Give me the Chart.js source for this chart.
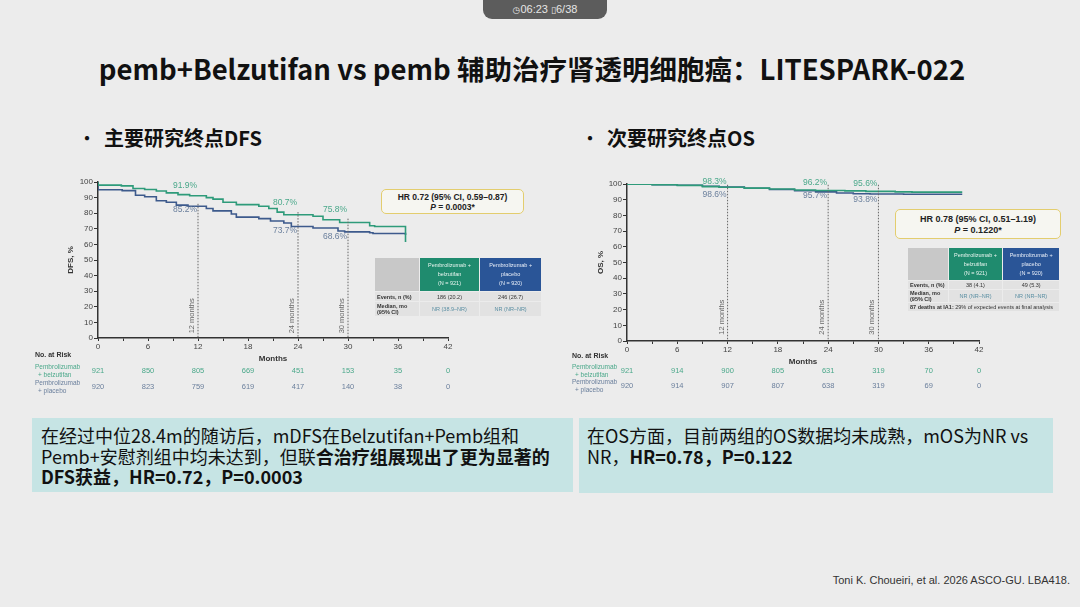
<!DOCTYPE html>
<html>
<head>
<meta charset="utf-8">
<script src="https://cdn.jsdelivr.net/npm/chart.js@4.4.1/dist/chart.umd.min.js"></script>
<style>
body { margin: 0; background: #ececec; }
#slide { position: relative; width: 1080px; height: 607px; overflow: hidden; background: #ececec; font-family: "Noto Sans CJK SC", "Noto Sans", sans-serif; color: #111; }
.abs { position: absolute; }
#pill { left: 483px; top: 0; width: 124px; height: 19px; background: #5c5c5c; border-radius: 0 0 9px 9px; color: #e6e6e6; font: 11px "Liberation Sans Narrow", "Liberation Sans", sans-serif; text-align: center; line-height: 19px; }
#title { left: -8px; top: 48px; width: 1080px; text-align: center; font-size: 27.5px; font-weight: bold; line-height: 40px; }
.bullet { font-size: 20px; font-weight: bold; line-height: 26px; }
.bullet span { display: inline-block; width: 27px; font-weight: normal; }
.hr { border: 1.5px solid #e3cd6e; border-radius: 5px; background: #f6f6f1; text-align: center; font: bold 8.5px "Liberation Sans", sans-serif; color: #222; box-sizing: border-box; }
table.t { border-collapse: separate; border-spacing: 1px; font: 5.5px "Liberation Sans", sans-serif; color: #333; }
table.t td { padding: 0 2px; text-align: center; background: #e2e2e2; }
table.t td.h0 { background: #c8c8c8; }
table.t td.hg { background: #1f8b6e; color: #e8f5ef; line-height: 9px; }
table.t td.hb { background: #2a5597; color: #e8eef8; line-height: 9px; }
table.t td.l { text-align: left; font-weight: bold; }
table.t td.nr { color: #5b8fa3; }
.box { background: #c6e4e4; font-size: 18px; line-height: 20.5px; box-sizing: border-box; padding: 7px 8px 0 9px; white-space: nowrap; }
#cite { right: 10px; top: 574px; font: 11px "Liberation Sans Narrow", "Liberation Sans", sans-serif; color: #333; }
</style>
</head>
<body>
<div id="slide">
  <div id="pill" class="abs"><span style="font-family:'DejaVu Sans';font-size:9px">&#9719;</span>06:23 <span style="font-family:'DejaVu Sans';font-size:9px">&#9647;</span>6/38</div>
  <div id="title" class="abs">pemb+Belzutifan vs pemb 辅助治疗肾透明细胞癌：LITESPARK-022</div>
  <div class="abs bullet" style="left:77px;top:125px"><span>•</span>主要研究终点DFS</div>
  <div class="abs bullet" style="left:580px;top:125px"><span>•</span>次要研究终点OS</div>

  <canvas id="dfs" class="abs" style="left:30px;top:170px;width:530px;height:230px"></canvas>
  <canvas id="os" class="abs" style="left:560px;top:170px;width:515px;height:230px"></canvas>

  <div class="abs hr" style="left:381px;top:189px;width:143px;height:25px;padding-top:2px;line-height:10px">HR 0.72 (95% CI, 0.59–0.87)<br><i>P</i> = 0.0003*</div>
  <table class="abs t" style="left:374px;top:257px;width:168px">
    <tr style="height:33px"><td class="h0" style="width:40px"></td><td class="hg" style="width:56px">Pembrolizumab +<br>belzutifan<br>(N = 921)</td><td class="hb" style="width:57px">Pembrolizumab +<br>placebo<br>(N = 920)</td></tr>
    <tr style="height:9px"><td class="l">Events, n (%)</td><td>186 (20.2)</td><td>246 (26.7)</td></tr>
    <tr style="height:14px"><td class="l">Median, mo<br>(95% CI)</td><td class="nr">NR (38.9–NR)</td><td class="nr">NR (NR–NR)</td></tr>
  </table>

  <div class="abs hr" style="left:895px;top:209px;width:166px;height:30px;padding-top:4px;line-height:11px;font-size:9px">HR 0.78 (95% CI, 0.51–1.19)<br><i>P</i> = 0.1220*</div>
  <table class="abs t" style="left:907px;top:247px;width:153px">
    <tr style="height:32px"><td class="h0" style="width:36px"></td><td class="hg" style="width:50px">Pembrolizumab +<br>belzutifan<br>(N = 921)</td><td class="hb" style="width:52px">Pembrolizumab +<br>placebo<br>(N = 920)</td></tr>
    <tr style="height:8px"><td class="l">Events, n (%)</td><td>38 (4.1)</td><td>49 (5.3)</td></tr>
    <tr style="height:12px"><td class="l">Median, mo<br>(95% CI)</td><td class="nr">NR (NR–NR)</td><td class="nr">NR (NR–NR)</td></tr>
    <tr style="height:8px"><td colspan="3" style="text-align:left"><b>87 deaths at IA1:</b> 29% of expected events at final analysis</td></tr>
  </table>

  <div class="abs box" style="left:32px;top:418px;width:541px;height:74px">在经过中位28.4m的随访后，mDFS在Belzutifan+Pemb组和<br>Pemb+安慰剂组中均未达到，但联<b>合治疗组展现出了更为显著的<br>DFS获益，HR=0.72，P=0.0003</b></div>
  <div class="abs box" style="left:579px;top:418px;width:474px;height:75px;padding-left:8px">在OS方面，目前两组的OS数据均未成熟，mOS为NR vs<br>NR，<b>HR=0.78，P=0.122</b></div>

  <div id="cite" class="abs">Toni K. Choueiri, et al. 2026 ASCO-GU. LBA418.</div>
</div>

<script>
// ---- data ----
var riskMonths = [0, 6, 12, 18, 24, 30, 36, 42];
var milestoneMonths = [12, 24, 30];

// DFS Kaplan-Meier steps (month, %)
var dfsBelzMonths = [0, 2.8, 4.2, 5.6, 7.0, 8.2, 9.6, 11.0, 13.0, 13.8, 15.0, 16.6, 19.3, 20.5, 21.5, 22.3, 25.8, 27.0, 29.0, 32.6, 33.2, 36.9, 37.0];
var dfsBelzPct   = [100, 98, 97.5, 95.8, 95.2, 94.2, 93, 91.9, 91.2, 90, 89, 87, 85.5, 84.5, 83, 80.7, 79, 78, 75.8, 74, 72, 71.5, 62];
var dfsPlacMonths = [0, 2.9, 4.5, 5.6, 7.0, 8.2, 9.4, 10.8, 13.0, 13.8, 16.0, 16.6, 19.3, 20.7, 22.3, 23.2, 25.8, 28.8, 29.6, 32.6, 33.0, 36.9, 37.0];
var dfsPlacPct   = [100, 95, 94.5, 91.5, 90.5, 88, 87, 85.2, 84.5, 83, 81.5, 79.5, 77.5, 76.5, 75, 73.7, 71.5, 70.5, 68.6, 68, 67.5, 67, 66.5];

// OS Kaplan-Meier steps (month, %)
var osBelzMonths = [0, 3, 6, 9, 11, 14, 17, 20, 22.5, 26, 28.5, 32, 34, 37, 40];
var osBelzPct    = [100, 99.8, 99.5, 99.1, 98.3, 97.9, 97.4, 96.8, 96.2, 95.9, 95.6, 95.3, 95, 94.8, 94.8];
var osPlacMonths = [0, 3, 6, 9, 11, 14, 17, 20, 22.5, 25, 27, 29, 33, 36, 40];
var osPlacPct    = [100, 99.9, 99.6, 99.2, 98.6, 98, 97.3, 96.5, 95.7, 95, 94.3, 93.8, 93.6, 93.5, 93.5];

// milestone labels
var dfsBelzLabels = ["91.9%", "80.7%", "75.8%"];
var dfsPlacLabels = ["85.2%", "73.7%", "68.6%"];
var osBelzLabels  = ["98.3%", "96.2%", "95.6%"];
var osPlacLabels  = ["98.6%", "95.7%", "93.8%"];

// numbers at risk
var dfsRiskBelz = [921, 850, 805, 669, 451, 153, 35, 0];
var dfsRiskPlac = [920, 823, 759, 619, 417, 140, 38, 0];
var osRiskBelz  = [921, 914, 900, 805, 631, 319, 70, 0];
var osRiskPlac  = [920, 914, 907, 807, 638, 319, 69, 0];

var GREEN = "#2e9b7a";
var BLUE = "#3d5a8c";
var GREEN_TXT = "#4aa88a";
var BLUE_TXT = "#6a7f9c";

function pts(t, s) {
  return t.map(function(m, i) { return { x: m, y: s[i] }; });
}

var kmAnnot = {
  id: "kmAnnot",
  afterDatasetsDraw: function(chart, args, o) {
    var ctx = chart.ctx, x = chart.scales.x, y = chart.scales.y;
    ctx.save();
    milestoneMonths.forEach(function(m, i) {
      var px = x.getPixelForValue(m);
      ctx.strokeStyle = "#666";
      ctx.lineWidth = 1;
      ctx.setLineDash([1.5, 1.5]);
      ctx.beginPath();
      ctx.moveTo(px, y.getPixelForValue(o.lineTop[i]));
      ctx.lineTo(px, y.getPixelForValue(0));
      ctx.stroke();
      ctx.setLineDash([]);

      ctx.save();
      ctx.translate(px - 6, y.getPixelForValue(o.rotFrom));
      ctx.rotate(-Math.PI / 2);
      ctx.font = "7.5px 'Liberation Sans'";
      ctx.fillStyle = "#666";
      ctx.textAlign = "left";
      ctx.textBaseline = "middle";
      ctx.fillText(m + " months", 0, 0);
      ctx.restore();

      ctx.font = "8.5px 'Liberation Sans'";
      ctx.textAlign = "right";
      ctx.textBaseline = "middle";
      ctx.fillStyle = GREEN_TXT;
      ctx.fillText(o.topTxt[i], px - 1, y.getPixelForValue(o.topY[i]));
      ctx.fillStyle = BLUE_TXT;
      ctx.fillText(o.botTxt[i], px - 1, y.getPixelForValue(o.botY[i]));
    });

    // numbers at risk
    ctx.textBaseline = "middle";
    ctx.textAlign = "left";
    ctx.font = "bold 7px 'Liberation Sans'";
    ctx.fillStyle = "#333";
    ctx.fillText("No. at Risk", o.labX, o.riskY0);
    ctx.font = "6.5px 'Liberation Sans'";
    ctx.fillStyle = GREEN_TXT;
    ctx.fillText("Pembrolizumab", o.labX, o.riskY1 - 4);
    ctx.fillText("+ belzutifan", o.labX + 3, o.riskY1 + 4);
    ctx.fillStyle = BLUE_TXT;
    ctx.fillText("Pembrolizumab", o.labX, o.riskY2 - 4);
    ctx.fillText("+ placebo", o.labX + 3, o.riskY2 + 4);
    ctx.font = "7.5px 'Liberation Sans'";
    ctx.textAlign = "center";
    riskMonths.forEach(function(m, i) {
      var px = x.getPixelForValue(m);
      ctx.fillStyle = GREEN_TXT;
      ctx.fillText(String(o.risk1[i]), px, o.riskY1);
      ctx.fillStyle = BLUE_TXT;
      ctx.fillText(String(o.risk2[i]), px, o.riskY2);
    });
    ctx.restore();
  }
};

function makeKM(id, w, h, yTitle, belz, plac, pad, yw, ann) {
  var cv = document.getElementById(id);
  cv.width = w; cv.height = h;
  return new Chart(cv, {
    type: "line",
    data: {
      datasets: [
        { label: "Pembrolizumab + belzutifan", data: belz, borderColor: GREEN, borderWidth: 1.6, stepped: "after", pointRadius: 0, fill: false },
        { label: "Pembrolizumab + placebo", data: plac, borderColor: BLUE, borderWidth: 1.6, stepped: "after", pointRadius: 0, fill: false }
      ]
    },
    options: {
      responsive: false,
      animation: false,
      layout: { padding: pad },
      plugins: { legend: { display: false }, tooltip: { enabled: false }, kmAnnot: ann },
      scales: {
        x: {
          type: "linear", min: 0, max: 42,
          afterFit: function(s) { s.height = 26; },
          ticks: { stepSize: 3, autoSkip: false, maxRotation: 0, padding: 1, color: "#444", font: { size: 8, family: "Liberation Sans" },
                   callback: function(v) { return v % 6 === 0 ? v : ""; } },
          grid: { drawOnChartArea: false, tickLength: 3, color: "#333" },
          border: { color: "#333", width: 1.5 },
          title: { display: true, text: "Months", color: "#333", padding: { top: 0, bottom: 0 }, font: { size: 8, weight: "bold", family: "Liberation Sans" } }
        },
        y: {
          min: 0, max: 100,
          afterFit: function(s) { s.width = yw; },
          ticks: { stepSize: 10, padding: 1, color: "#444", font: { size: 8, family: "Liberation Sans" } },
          grid: { drawOnChartArea: false, tickLength: 4, color: "#333" },
          border: { color: "#333", width: 1.5 },
          title: { display: true, text: yTitle, color: "#333", padding: { top: 0, bottom: 0 }, font: { size: 8, weight: "bold", family: "Liberation Sans" } }
        }
      }
    },
    plugins: [kmAnnot]
  });
}

makeKM("dfs", 530, 230, "DFS, %", pts(dfsBelzMonths, dfsBelzPct), pts(dfsPlacMonths, dfsPlacPct),
  { left: 36, right: 112, top: 12, bottom: 36 }, 32,
  { lineTop: [86, 80.7, 76.5], rotFrom: 3,
    topTxt: dfsBelzLabels, topY: [97.5, 87, 82],
    botTxt: dfsPlacLabels, botY: [82, 69, 64.7],
    labX: 5, riskY0: 185, riskY1: 201, riskY2: 217,
    risk1: dfsRiskBelz, risk2: dfsRiskPlac });

makeKM("os", 515, 230, "OS, %", pts(osBelzMonths, osBelzPct), pts(osPlacMonths, osPlacPct),
  { left: 36, right: 96, top: 14, bottom: 33 }, 31,
  { lineTop: [99.5, 99.5, 99.5], rotFrom: 4,
    topTxt: osBelzLabels, topY: [101.8, 100.8, 100.3],
    botTxt: osPlacLabels, botY: [93, 92.3, 90.3],
    labX: 12, riskY0: 186, riskY1: 201, riskY2: 216,
    risk1: osRiskBelz, risk2: osRiskPlac });
</script>
</body>
</html>
